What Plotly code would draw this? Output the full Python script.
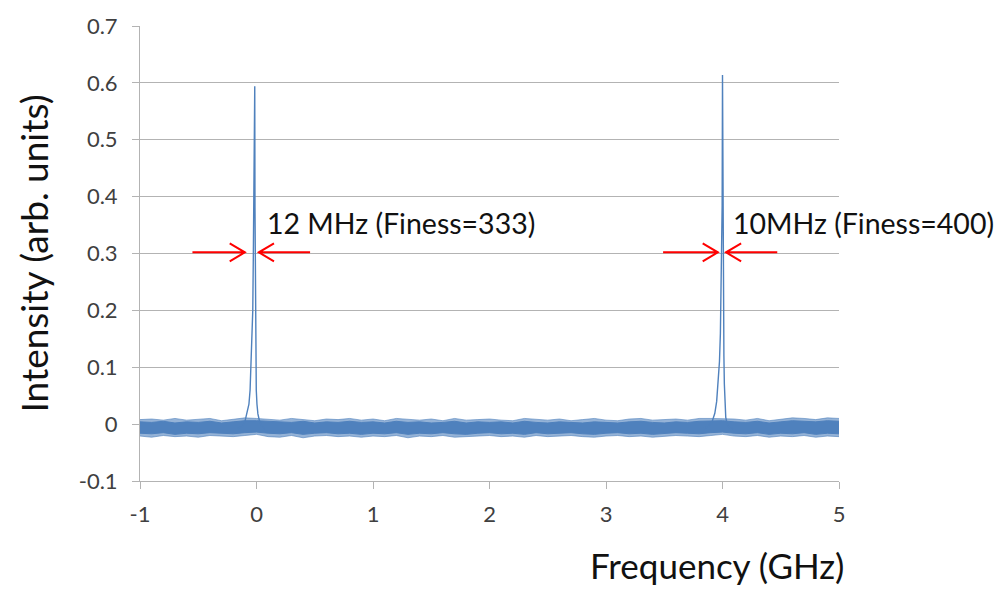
import plotly.graph_objects as go

# ---------------- data ----------------
# noise floor envelope, x in GHz
noise_x = [-1.0, -0.9, -0.8, -0.7, -0.6, -0.5, -0.4, -0.3, -0.2, -0.1, 0.0,
           0.1, 0.2, 0.3, 0.4, 0.5, 0.6, 0.7, 0.8, 0.9, 1.0,
           1.1, 1.2, 1.3, 1.4, 1.5, 1.6, 1.7, 1.8, 1.9, 2.0,
           2.1, 2.2, 2.3, 2.4, 2.5, 2.6, 2.7, 2.8, 2.9, 3.0,
           3.1, 3.2, 3.3, 3.4, 3.5, 3.6, 3.7, 3.8, 3.9, 4.0,
           4.1, 4.2, 4.3, 4.4, 4.5, 4.6, 4.7, 4.8, 4.9, 5.0]
# dense core of the noise band
noise_upper = [0.004, 0.003, 0.005, 0.002, 0.004, 0.003, 0.005, 0.002, 0.004, 0.006, 0.006,
               0.005, 0.004, 0.003, 0.005, 0.002, 0.004, 0.003, 0.005, 0.003, 0.004,
               0.002, 0.005, 0.003, 0.004, 0.002, 0.003, 0.005, 0.002, 0.004, 0.003,
               0.004, 0.002, 0.005, 0.003, 0.002, 0.004, 0.003, 0.002, 0.004, 0.003,
               0.002, 0.004, 0.005, 0.003, 0.002, 0.004, 0.003, 0.005, 0.006, 0.006,
               0.004, 0.003, 0.005, 0.002, 0.004, 0.006, 0.005, 0.004, 0.006, 0.005]
noise_lower = [-0.016, -0.017, -0.015, -0.018, -0.016, -0.017, -0.015, -0.016, -0.017, -0.015, -0.014,
               -0.016, -0.017, -0.015, -0.018, -0.016, -0.015, -0.017, -0.016, -0.018, -0.016,
               -0.017, -0.015, -0.018, -0.016, -0.017, -0.015, -0.017, -0.018, -0.016, -0.015,
               -0.017, -0.016, -0.018, -0.015, -0.017, -0.016, -0.015, -0.017, -0.018, -0.016,
               -0.015, -0.017, -0.016, -0.018, -0.017, -0.015, -0.016, -0.017, -0.015, -0.014,
               -0.016, -0.017, -0.015, -0.018, -0.016, -0.017, -0.015, -0.018, -0.016, -0.017]
# sparse outer extremes of the noise band
noise_max = [0.008, 0.009, 0.007, 0.010, 0.007, 0.008, 0.010, 0.006, 0.009, 0.011, 0.010,
             0.009, 0.007, 0.010, 0.008, 0.006, 0.009, 0.008, 0.010, 0.007, 0.009,
             0.006, 0.010, 0.008, 0.007, 0.009, 0.006, 0.010, 0.007, 0.008, 0.009,
             0.007, 0.006, 0.010, 0.008, 0.007, 0.009, 0.006, 0.008, 0.010, 0.007,
             0.006, 0.009, 0.010, 0.007, 0.008, 0.009, 0.007, 0.010, 0.010, 0.010,
             0.009, 0.007, 0.010, 0.006, 0.009, 0.011, 0.010, 0.008, 0.011, 0.010]
noise_min = [-0.021, -0.023, -0.020, -0.022, -0.021, -0.023, -0.020, -0.021, -0.022, -0.020, -0.018,
             -0.022, -0.023, -0.020, -0.024, -0.021, -0.020, -0.022, -0.021, -0.023, -0.021,
             -0.022, -0.020, -0.024, -0.021, -0.022, -0.020, -0.023, -0.022, -0.021, -0.020,
             -0.022, -0.021, -0.023, -0.020, -0.022, -0.021, -0.020, -0.022, -0.023, -0.021,
             -0.020, -0.022, -0.021, -0.023, -0.022, -0.020, -0.021, -0.022, -0.020, -0.018,
             -0.021, -0.022, -0.020, -0.023, -0.021, -0.022, -0.020, -0.023, -0.021, -0.022]

# resonance peak 1 (near 0 GHz)
peak1_x = [-0.16, -0.12, -0.10, -0.08, -0.065, -0.055, -0.045, -0.038, -0.032, -0.027,
           -0.023, -0.019, -0.016, -0.015, -0.013, -0.011, -0.009, -0.006, -0.002, 0.004,
           0.012, 0.025, 0.045, 0.07]
peak1_y = [-0.008, -0.004, 0.004, 0.019, 0.035, 0.06, 0.11, 0.15, 0.2, 0.3,
           0.39, 0.42, 0.45, 0.594, 0.38, 0.25, 0.16, 0.1, 0.06, 0.035,
           0.018, 0.006, -0.004, -0.008]

# resonance peak 2 (near 4 GHz)
peak2_x = [3.84, 3.88, 3.91, 3.934, 3.95, 3.962, 3.974, 3.982, 3.988, 3.993, 3.997,
           4.0, 4.003, 4.006, 4.009, 4.012, 4.016, 4.022, 4.028, 4.04, 4.06, 4.09]
peak2_y = [-0.008, -0.004, 0.004, 0.019, 0.04, 0.07, 0.11, 0.16, 0.228, 0.3, 0.385,
           0.614, 0.38, 0.3, 0.2, 0.12, 0.07, 0.035, 0.012, 0.0, -0.006, -0.008]

y_tickvals = [0.7, 0.6, 0.5, 0.4, 0.3, 0.2, 0.1, 0.0, -0.1]
y_ticktext = ["0.7", "0.6", "0.5", "0.4", "0.3", "0.2", "0.1", "0", "-0.1"]
x_tickvals = [-1, 0, 1, 2, 3, 4, 5]
x_ticktext = ["-1", "0", "1", "2", "3", "4", "5"]

label1 = "12 MHz (Finess=333)"
label2 = "10MHz (Finess=400)"
label_pos = [(0.07, 0.354), (4.073, 0.354)]

# FWHM arrow markers: (tail, tip) pairs at half-maximum level
arrow_level = 0.302
arrows = [(-0.55, -0.10), (0.46, 0.02), (3.49, 3.96), (4.47, 4.03)]

# ---------------- figure ----------------
BLUE = "#4f81bd"
GRID = "#b3b3b3"
FONT = "Lato"

fig = go.Figure()

fig.add_trace(go.Scatter(x=noise_x, y=noise_min, mode="lines",
                         line=dict(color="rgba(79,129,189,0.6)", width=1),
                         hoverinfo="skip", showlegend=False))
fig.add_trace(go.Scatter(x=noise_x, y=noise_max, mode="lines", fill="tonexty",
                         fillcolor="rgba(79,129,189,0.6)",
                         line=dict(color="rgba(79,129,189,0.6)", width=1), showlegend=False))
fig.add_trace(go.Scatter(x=noise_x, y=noise_lower, mode="lines",
                         line=dict(color=BLUE, width=1), hoverinfo="skip", showlegend=False))
fig.add_trace(go.Scatter(x=noise_x, y=noise_upper, mode="lines", fill="tonexty",
                         fillcolor=BLUE, line=dict(color=BLUE, width=1), showlegend=False))
fig.add_trace(go.Scatter(x=peak1_x, y=peak1_y, mode="lines",
                         line=dict(color=BLUE, width=1.4), showlegend=False))
fig.add_trace(go.Scatter(x=peak2_x, y=peak2_y, mode="lines",
                         line=dict(color=BLUE, width=1.4), showlegend=False))

# arrows (shaft + open chevron head)
head_dx = 0.13
head_dy = 0.0157
for tail, tip in arrows:
    d = 1 if tip > tail else -1
    path = (f"M {tail},{arrow_level} L {tip},{arrow_level} "
            f"M {tip - d*head_dx},{arrow_level + head_dy} L {tip},{arrow_level} "
            f"L {tip - d*head_dx},{arrow_level - head_dy}")
    fig.add_shape(type="path", path=path, xref="x", yref="y",
                  line=dict(color="#ff0000", width=2))

for txt, (lx, ly) in zip([label1, label2], label_pos):
    fig.add_annotation(x=lx, y=ly, xref="x", yref="y", text=txt, showarrow=False,
                       xanchor="left", yanchor="middle",
                       font=dict(family=FONT, size=28.5, color="#111111"))

fig.add_annotation(x=(717-140)/699, y=-(566-481)/459, xref="paper", yref="paper",
                   text="Frequency (GHz)", showarrow=False,
                   xanchor="center", yanchor="middle",
                   font=dict(family=FONT, size=35, color="#111111"))
fig.add_annotation(x=-(140-33)/699, y=0.5, xref="paper", yref="paper",
                   text="Intensity (arb. units)", textangle=-90, showarrow=False,
                   xanchor="center", yanchor="middle",
                   font=dict(family=FONT, size=37, color="#111111"))

fig.update_xaxes(range=[-1, 5], tickvals=x_tickvals, ticktext=x_ticktext,
                 showgrid=False, zeroline=False, showline=True, linecolor=GRID, linewidth=1,
                 ticks="outside", ticklen=7, tickcolor=GRID, ticklabelstandoff=7,
                 tickfont=dict(family=FONT, size=22, color="#404040"))
fig.update_yaxes(range=[-0.1, 0.7], tickvals=y_tickvals, ticktext=y_ticktext,
                 showgrid=True, gridcolor=GRID, gridwidth=1, zeroline=False,
                 showline=True, linecolor=GRID, linewidth=1,
                 ticks="outside", ticklen=7, tickcolor=GRID, ticklabelstandoff=10,
                 tickfont=dict(family=FONT, size=22, color="#404040"))

fig.update_layout(width=996, height=589, margin=dict(l=140, r=157, t=22, b=108),
                  plot_bgcolor="white", paper_bgcolor="white", showlegend=False)

fig.write_html("out.html", config={"displayModeBar": False},
               post_script="document.body.style.margin='0';document.body.style.padding='0';")
